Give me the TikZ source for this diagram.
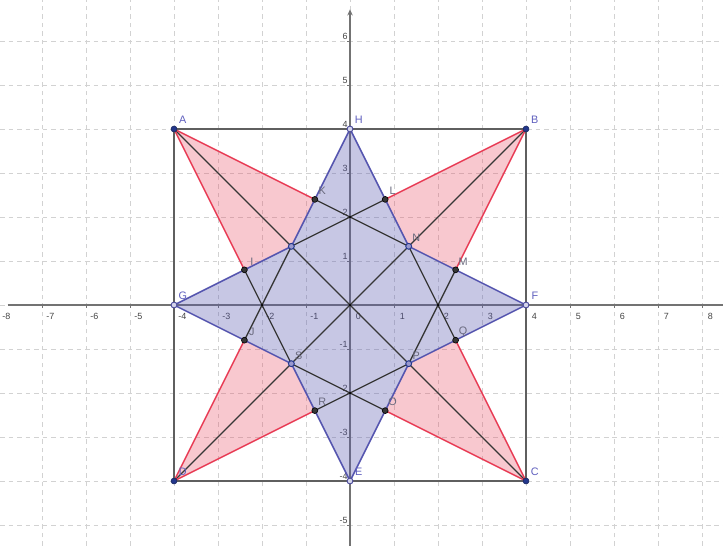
\documentclass[tikz,border=0pt]{standalone}
\usepackage{fontspec}
\setmainfont{Liberation Sans}
\usetikzlibrary{arrows.meta}
\definecolor{gridc}{RGB}{210,210,210}
\definecolor{axisc}{RGB}{115,115,115}
\definecolor{sqc}{RGB}{95,95,95}
\definecolor{redc}{RGB}{232,60,85}
\definecolor{bluec}{RGB}{85,85,175}
\definecolor{linec}{RGB}{55,55,55}
\definecolor{ptblue}{RGB}{35,55,140}
\definecolor{lblblue}{RGB}{95,95,190}
\definecolor{lblgrey}{RGB}{105,105,125}
\definecolor{tickc}{RGB}{70,70,70}
\begin{document}
\begin{tikzpicture}[x=1cm,y=1cm,
  gridline/.style={gridc, dash pattern=on 3pt off 2.5pt, line width=0.5pt},
  axisline/.style={axisc, line width=0.9pt},
  sqline/.style={sqc, line width=0.9pt},
  innerline/.style={linec, line width=0.85pt},
  rededge/.style={redc, line width=0.9pt},
  blueedge/.style={bluec, line width=1pt},
  redfill/.style={fill=redc, fill opacity=0.28},
  bluefill/.style={fill=bluec, fill opacity=0.33},
  cornerpt/.style={circle, inner sep=0pt, minimum size=3.8pt, fill=ptblue, draw=ptblue!70!black, line width=0.4pt},
  midpt/.style={circle, inner sep=0pt, minimum size=3.8pt, fill=bluec!25, draw=bluec!90!black, line width=0.6pt},
  blkpt/.style={circle, inner sep=0pt, minimum size=3.8pt, fill=linec, draw=black, line width=0.4pt},
  starpt/.style={circle, inner sep=0pt, minimum size=3.8pt, fill=bluec!60, draw=ptblue, line width=0.6pt},
  dotpt/.style={circle, inner sep=0pt, minimum size=1.6pt, fill=black},
  lblb/.style={text=lblblue, font=\fontsize{7}{8}\selectfont, inner sep=0pt},
  lblg/.style={text=lblgrey, font=\fontsize{7}{8}\selectfont, inner sep=0pt},
  ticklbl/.style={text=tickc, font=\fontsize{5.8}{6.5}\selectfont, inner sep=0pt}
]
\useasboundingbox (-7.955,-5.477) rectangle (8.477,6.932);
\fill[white] (-7.955,-5.477) rectangle (8.477,6.932);
% grid
\foreach \x in {-7,...,8} \draw[gridline] (\x,-5.477) -- (\x,6.932);
\foreach \y in {-5,...,6} \draw[gridline] (-7.955,\y) -- (8.477,\y);
% axes
\coordinate (xl) at (-7.78,0);
\coordinate (xr) at (8.477,0);
\coordinate (yb) at (0,-5.477);
\coordinate (yt) at (0,6.72);
\draw[axisline] (xl) -- (xr);
\draw[axisline,-{Stealth[length=4pt,width=3.5pt]}] (yb) -- (yt);
\foreach \x in {-7,...,8} \draw[axisline, line width=0.6pt] (\x,0) -- (\x,-0.07);
\foreach \y in {-5,...,6} \draw[axisline, line width=0.6pt] (0,\y) -- (-0.07,\y);
\foreach \x in {-8,...,8} \node[ticklbl] at (\x+0.19,-0.25) {\x};
\foreach \y in {-5,...,-1,1,2,...,6} \node[ticklbl, anchor=east] at (-0.05,\y+0.11) {\y};
% points
\coordinate (A) at (-4,4);
\coordinate (B) at (4,4);
\coordinate (C) at (4,-4);
\coordinate (D) at (-4,-4);
\coordinate (H) at (0,4);
\coordinate (F) at (4,0);
\coordinate (E) at (0,-4);
\coordinate (G) at (-4,0);
\coordinate (K) at (-0.8,2.4);
\coordinate (L) at (0.8,2.4);
\coordinate (M) at (2.4,0.8);
\coordinate (Q) at (2.4,-0.8);
\coordinate (O) at (0.8,-2.4);
\coordinate (R) at (-0.8,-2.4);
\coordinate (J) at (-2.4,-0.8);
\coordinate (I) at (-2.4,0.8);
\coordinate (T) at (-4/3,4/3);
\coordinate (N) at (4/3,4/3);
\coordinate (P) at (4/3,-4/3);
\coordinate (S) at (-4/3,-4/3);
\coordinate (Z0) at (0,0);
\coordinate (Z1) at (0,2);
\coordinate (Z2) at (2,0);
\coordinate (Z3) at (0,-2);
\coordinate (Z4) at (-2,0);
% fills
\fill[redfill] (A) -- (K) -- (T) -- (I) -- cycle;
\fill[redfill] (B) -- (M) -- (N) -- (L) -- cycle;
\fill[redfill] (C) -- (O) -- (P) -- (Q) -- cycle;
\fill[redfill] (D) -- (J) -- (S) -- (R) -- cycle;
\fill[bluefill] (H) -- (T) -- (G) -- (S) -- (E) -- (P) -- (F) -- (N) -- cycle;
% square
\draw[sqline] (A) -- (B) -- (C) -- (D) -- cycle;
% inner lines
\draw[innerline] (A) -- (C);
\draw[innerline] (B) -- (D);
\draw[innerline] (K) -- (N);
\draw[innerline] (L) -- (T);
\draw[innerline] (M) -- (P);
\draw[innerline] (Q) -- (N);
\draw[innerline] (O) -- (S);
\draw[innerline] (R) -- (P);
\draw[innerline] (J) -- (T);
\draw[innerline] (I) -- (S);
% red edges
\draw[rededge] (K) -- (A) -- (I);
\draw[rededge] (L) -- (B) -- (M);
\draw[rededge] (Q) -- (C) -- (O);
\draw[rededge] (J) -- (D) -- (R);
% blue star outline
\draw[blueedge] (H) -- (T) -- (G) -- (S) -- (E) -- (P) -- (F) -- (N) -- cycle;
% point markers
\foreach \p in {Z0,Z1,Z2,Z3,Z4} \node[dotpt] (d\p) at (\p) {};
\foreach \p in {A,B,C,D} \node[cornerpt] (p\p) at (\p) {};
\foreach \p in {H,F,E,G} \node[midpt] (p\p) at (\p) {};
\foreach \p in {K,L,M,Q,O,R,J,I} \node[blkpt] (p\p) at (\p) {};
\foreach \p in {T,N,P,S} \node[starpt] (p\p) at (\p) {};
% labels
\foreach \p in {A,B,C,D,H,F,E,G} \node[lblb] (l\p) at ([shift={(0.2,0.2)}]\p) {\p};
\foreach \p in {K,L,M,Q,O,R,J,I,N,P,S} \node[lblg] (l\p) at ([shift={(0.17,0.19)}]\p) {\p};
\end{tikzpicture}
\end{document}
